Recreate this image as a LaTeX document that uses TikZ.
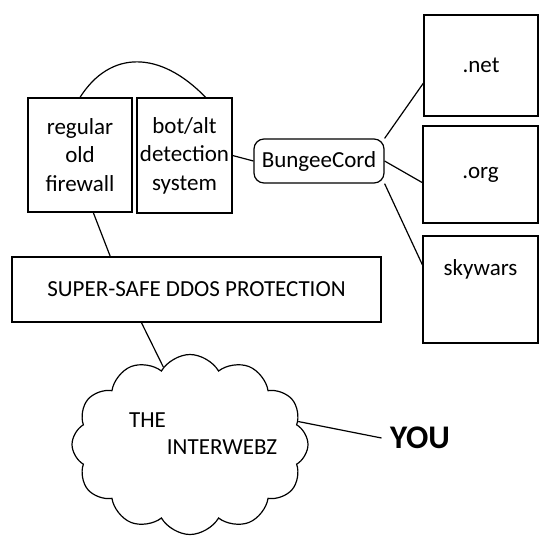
\documentclass[tikz,border=0pt]{standalone}
\usepackage{fontspec}
\setmainfont{Carlito}
\usetikzlibrary{shapes.symbols}

\begin{document}
\begin{tikzpicture}[x=1pt,y=-1pt,line width=1.2pt,
    box/.style={draw,inner sep=0pt,align=center,font=\fontsize{23}{28.5}\selectfont},
    txt/.style={inner sep=0pt,font=\fontsize{23}{28.5}\selectfont}]
            \useasboundingbox (0,0) rectangle (543,547);

            % Firewall and detection
            \node[box,minimum width=104,minimum height=114] (fw) at (80,155) {regular\\old\\firewall};
            \node[box,minimum width=95,minimum height=115] (bot) at (184.5,155.5) {bot/alt\\detection\\system};
            \draw (fw.north) .. controls (110,50) and (160,50) .. (bot.70);

            % Proxy
            \node[box,rounded corners=10pt,minimum width=130,minimum height=44] (bungee) at (319,161) {BungeeCord};
            \draw (bot.east) -- (bungee.west);

            % Servers
            \node[box,minimum width=114,minimum height=101] (net) at (481,65.5) {.net};
            \node[box,minimum width=115,minimum height=97] (org) at (480.5,174.5) {.org};
            \node[box,minimum width=115,minimum height=107,
                label={[name=skylbl,txt,yshift=20]center:skywars}] (sky) at (480.5,289.5) {};
            \draw (bungee.north east) -- (net.197);
            \draw (bungee.east) -- (org.188);
            \draw (bungee.south east) -- (sky.157);

            % Protection
            \node[box,minimum width=369,minimum height=65] (ddos) at (196.5,289.5) {SUPER-SAFE DDOS PROTECTION};
            \draw (fw.283) -- (ddos.159);

            % Internet
            \node[cloud,draw,cloud puffs=12,cloud puff arc=120,aspect=1.3,
                minimum width=236,minimum height=180,inner sep=0pt] (web) at (190,444.5) {};
            \node[txt] (the) at (147.5,420) {THE};
            \node[txt] (inter) at (222,447) {INTERWEBZ};
            \draw (ddos.211) -- (web.109);

            % User
            \node[inner sep=0pt,font=\fontsize{33}{40}\selectfont\bfseries] (you) at (420,438) {YOU};
            \draw (web.12) -- ([xshift=-8]you.west);
        \end{tikzpicture}
\end{document}
